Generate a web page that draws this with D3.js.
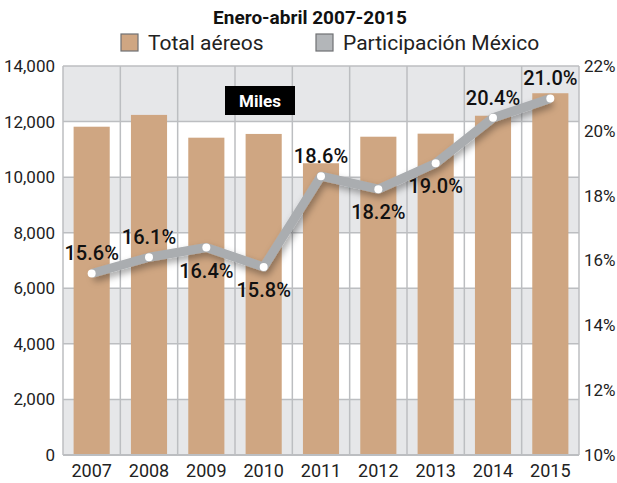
<!DOCTYPE html>
<html><head><meta charset="utf-8">
<script src="https://cdn.jsdelivr.net/npm/d3@7"></script>
<style>
html,body{margin:0;padding:0;background:#fff;}
svg{display:block;font-family:Roboto, "Noto Sans", sans-serif;}
</style></head>
<body>
<svg id="chart" width="617" height="483"></svg>
<script>
const years = ["2007","2008","2009","2010","2011","2012","2013","2014","2015"];
const totalAereos = [11815, 12240, 11420, 11555, 10500, 11455, 11565, 12210, 13020];
const participacion = [15.6, 16.1, 16.4, 15.8, 18.6, 18.2, 19.0, 20.4, 21.0];
const labelSide = ["up","up","down","down","up","down","down","up","up"];
const leftTicks = [0, 2000, 4000, 6000, 8000, 10000, 12000, 14000];
const rightTicks = [10, 12, 14, 16, 18, 20, 22];
const title = "Enero-abril 2007-2015";
const legendItems = ["Total aéreos", "Participación México"];

const svg = d3.select("#chart");
const L = 63, R = 579, T = 66, B = 455;
const barColor = "#cfa682", bandGrey = "#e6e7e9", gridColor = "#bcbec1", lineColor = "#aaadb0";

const x = d3.scaleBand().domain(years).range([L, R]).paddingInner(0.37).paddingOuter(0.185);
const yL = d3.scaleLinear().domain([0, 14000]).range([B, T]);
const yR = d3.scaleLinear().domain([10, 22]).range([B, T]);
const step = x.step(), off = (step - x.bandwidth()) / 2;

const defs = svg.append("defs");
const f = defs.append("filter").attr("id","sh").attr("x","-10%").attr("y","-20%").attr("width","130%").attr("height","160%");
f.append("feDropShadow").attr("dx",2).attr("dy",4).attr("stdDeviation",3.5).attr("flood-color","#000").attr("flood-opacity",0.35);

// bands
const bands = d3.range(leftTicks.length - 1);
svg.append("g").selectAll("rect").data(bands).join("rect")
  .attr("x", L).attr("width", R - L)
  .attr("y", i => yL(leftTicks[i+1])).attr("height", i => yL(leftTicks[i]) - yL(leftTicks[i+1]))
  .attr("fill", i => i % 2 === 0 ? bandGrey : "#ffffff");

// horizontal grid
svg.append("g").selectAll("line").data(leftTicks).join("line")
  .attr("x1", L).attr("x2", R).attr("y1", d => yL(d)).attr("y2", d => yL(d))
  .attr("stroke", gridColor).attr("stroke-width", 1.5);

// vertical grid
const vx = years.map(y => x(y) - off).concat([R]);
svg.append("g").selectAll("line").data(vx).join("line")
  .attr("x1", d => d).attr("x2", d => d).attr("y1", T).attr("y2", B)
  .attr("stroke", gridColor).attr("stroke-width", 1.5);

// bars
svg.append("g").selectAll("rect").data(years).join("rect")
  .attr("x", d => x(d)).attr("width", x.bandwidth())
  .attr("y", (d,i) => yL(totalAereos[i])).attr("height", (d,i) => B - yL(totalAereos[i]))
  .attr("fill", barColor);

// bottom border
svg.append("line").attr("x1", L).attr("x2", R).attr("y1", B).attr("y2", B).attr("stroke", gridColor).attr("stroke-width", 2);

// Miles box
svg.append("rect").attr("x", 225).attr("y", 86).attr("width", 70).attr("height", 29).attr("fill", "#000");
svg.append("text").attr("x", 260).attr("y", 107).attr("text-anchor","middle").attr("fill","#fff")
  .attr("font-size", 17).attr("font-weight", 700).text("Miles");

// line
const cx = d => x(d) + x.bandwidth()/2;
const line = d3.line().x((d,i) => cx(years[i])).y(d => yR(d));
svg.append("path").datum(participacion).attr("d", line).attr("fill","none")
  .attr("stroke", lineColor).attr("stroke-width", 9).attr("stroke-linejoin","round").attr("filter","url(#sh)");
svg.append("g").selectAll("circle").data(participacion).join("circle")
  .attr("cx", (d,i) => cx(years[i])).attr("cy", d => yR(d)).attr("r", 4).attr("fill", "#fff");

// value labels
svg.append("g").selectAll("text").data(participacion).join("text")
  .attr("x", (d,i) => cx(years[i]))
  .attr("y", (d,i) => yR(d) + (labelSide[i] === "up" ? -13 : 30))
  .attr("text-anchor","middle").attr("font-size", 20).attr("font-weight", 500).attr("fill","#111")
  .text(d => d.toFixed(1) + "%");

// axes
const axL = svg.append("g").attr("transform", `translate(${L},0)`)
  .call(d3.axisLeft(yL).tickValues(leftTicks).tickSize(0).tickPadding(8).tickFormat(d3.format(",")));
const axR = svg.append("g").attr("transform", `translate(${R},0)`)
  .call(d3.axisRight(yR).tickValues(rightTicks).tickSize(0).tickPadding(5).tickFormat(d => d + "%"));
const axB = svg.append("g").attr("transform", `translate(0,${B})`)
  .call(d3.axisBottom(x).tickSize(0).tickPadding(9));
[axL, axR, axB].forEach(a => {
  a.select(".domain").remove();
  a.selectAll("text").attr("font-family","Roboto").attr("font-size", 17).attr("fill","#222");
});
axB.selectAll("text").attr("font-size", 18);

// title
svg.append("text").attr("x", 310).attr("y", 24).attr("text-anchor","middle")
  .attr("font-size", 19).attr("font-weight", 700).attr("fill","#111").text(title);

// legend
const lg = svg.append("g");
const lgX = [121, 316];
const lgFill = [barColor, "#b3b6b9"];
legendItems.forEach((t, i) => {
  lg.append("rect").attr("x", lgX[i]).attr("y", 34).attr("width", 17).attr("height", 17)
    .attr("fill", lgFill[i]).attr("stroke", "#6f7173").attr("stroke-width", 1.2);
  lg.append("text").attr("x", lgX[i] + 27).attr("y", 50).attr("font-size", 21).attr("fill","#222").text(t);
});
</script>
</body></html>
